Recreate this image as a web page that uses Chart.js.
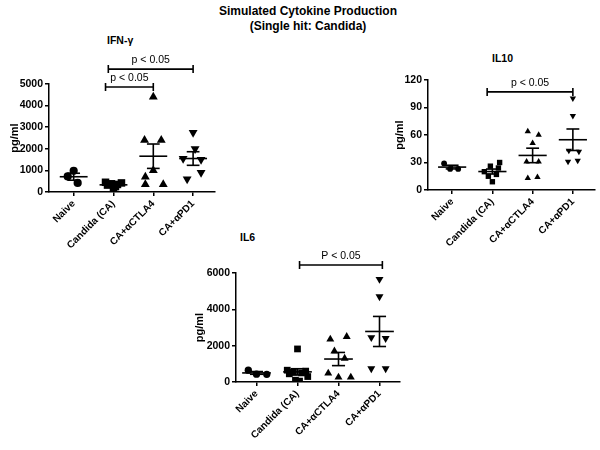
<!DOCTYPE html>
<html lang="en">
<head>
<meta charset="UTF-8">
<title>Simulated Cytokine Production</title>
<script src="https://cdn.jsdelivr.net/npm/chart.js"></script>
<style>
  body { margin: 0; width: 600px; height: 450px; position: relative; background: #fff; overflow: hidden;
         font-family: "Liberation Sans", Arial, sans-serif; color: #000; }
  .lbl { position: absolute; font-weight: bold; white-space: nowrap; }
  #title { left: 0; width: 616px; top: 4px; text-align: center; font-size: 12px; line-height: 15px; }
  canvas { position: absolute; }
</style>
<script>
  // groups on the x axis
  const groups = ['Naive', 'Candida (CA)', 'CA+αCTLA4', 'CA+αPD1'];

  // values, pg/ml, one array per group
  const ifnGamma = [
    [980, 720, 420],
    [450, 420, 380, 350, 320, 250, 150],
    [4400, 2400, 2400, 1000, 700, 350, 350],
    [2750, 2000, 1550, 1500, 900, 600]
  ];
  const il10 = [
    [29, 23, 23],
    [30, 26, 24, 20, 17, 15, 9],
    [64, 60, 51, 31, 31, 13, 14],
    [100, 81, 43, 42, 31, 32]
  ];
  const il6 = [
    [650, 430, 420],
    [1820, 650, 600, 550, 500, 450, 300, 100, 50],
    [2500, 2350, 1700, 1300, 480, 260, 260],
    [5660, 4700, 2450, 2400, 740, 740]
  ];

  // horizontal scatter of the dots inside a group (in category units)
  const ifnJitter = [[0, -0.15, 0.1], [-0.2, 0.2, -0.05, 0.1, -0.15, 0.05, 0], [0, -0.22, 0.2, 0, -0.2, -0.2, 0.25], [0, 0.05, -0.25, 0.2, 0.2, -0.15]];
  const il10Jitter = [[-0.2, -0.05, 0.15], [0.18, -0.05, 0.15, -0.2, 0.1, -0.1, 0], [-0.12, 0.15, 0, -0.15, 0.15, -0.12, 0.12], [0, 0, -0.1, 0.15, -0.12, 0.12]];
  const il6Jitter = [[-0.2, 0, 0.25], [0, -0.25, 0.2, -0.1, 0.1, -0.2, 0.25, -0.05, 0.05], [0.2, -0.2, -0.1, 0.15, -0.25, 0, 0.3], [0, 0, -0.2, 0.15, -0.2, 0.15]];

  // y tick labels
  const ifnTicks = [0, 1000, 2000, 3000, 4000, 5000];
  const il10Ticks = [0, 30, 60, 90, 120];
  const il6Ticks = [0, 2000, 4000, 6000];

  // significance brackets (x in category units, y in pg/ml)
  const ifnSig = [
    { from: 0.8, to: 2, y: 4860, label: 'p < 0.05' },
    { from: 0.87, to: 3, y: 5690, label: 'p < 0.05' }
  ];
  const il10Sig = [{ from: 0.87, to: 3, y: 107, label: 'p < 0.05' }];
  const il6Sig = [{ from: 1.05, to: 3.07, y: 6440, label: 'P < 0.05' }];

  const markers = ['circle', 'rect', 'triangle', 'triangle'];
  const markerTurn = [0, 0, 0, 180];
  const markerSize = [4.3, 5.6, 5.4, 5.4];

  Chart.defaults.font.family = "'Liberation Sans', Arial, sans-serif";
  Chart.defaults.color = '#000';

  // mean line with +/- SEM whiskers per group
  const meanSem = {
    id: 'meanSem',
    afterDatasetsDraw(chart) {
      const { ctx, scales: { x, y } } = chart;
      const hline = (a, b, v) => {
        ctx.beginPath();
        ctx.moveTo(x.getPixelForValue(a), y.getPixelForValue(v));
        ctx.lineTo(x.getPixelForValue(b), y.getPixelForValue(v));
        ctx.stroke();
      };
      ctx.save();
      ctx.strokeStyle = '#000';
      ctx.lineWidth = 1.6;
      chart.data.datasets.forEach((ds, i) => {
        const vals = ds.data.map(p => p.y);
        const n = vals.length;
        const m = vals.reduce((a, b) => a + b, 0) / n;
        const sd = Math.sqrt(vals.reduce((a, b) => a + (b - m) * (b - m), 0) / (n - 1));
        const se = sd / Math.sqrt(n);
        hline(i - 0.35, i + 0.35, m);
        hline(i - 0.16, i + 0.16, m + se);
        hline(i - 0.16, i + 0.16, m - se);
        ctx.beginPath();
        ctx.moveTo(x.getPixelForValue(i), y.getPixelForValue(m - se));
        ctx.lineTo(x.getPixelForValue(i), y.getPixelForValue(m + se));
        ctx.stroke();
      });
      ctx.restore();
    }
  };

  // "p < 0.05" brackets above the groups
  const sigBars = {
    id: 'sigBars',
    afterDraw(chart, args, opts) {
      const { ctx, scales: { x, y } } = chart;
      ctx.save();
      ctx.strokeStyle = '#000';
      ctx.fillStyle = '#000';
      ctx.lineWidth = 1.6;
      ctx.font = "10.5px 'Liberation Sans', Arial, sans-serif";
      ctx.textAlign = 'center';
      ctx.textBaseline = 'bottom';
      (opts.bars || []).forEach(b => {
        const x1 = x.getPixelForValue(b.from), x2 = x.getPixelForValue(b.to), yy = y.getPixelForValue(b.y);
        ctx.beginPath();
        ctx.moveTo(x1, yy); ctx.lineTo(x2, yy);
        ctx.moveTo(x1, yy - 4); ctx.lineTo(x1, yy + 4);
        ctx.moveTo(x2, yy - 4); ctx.lineTo(x2, yy + 4);
        ctx.stroke();
        ctx.fillText(b.label, (x1 + x2) / 2, yy - 4);
      });
      ctx.restore();
    }
  };

  function makePanel(id, values, jitter, yTicks, sig, box) {
    const datasets = values.map((vals, g) => ({
      label: groups[g],
      data: vals.map((v, k) => ({ x: g + jitter[g][k], y: v })),
      pointStyle: markers[g],
      rotation: markerTurn[g],
      radius: markerSize[g] * box.ms,
      backgroundColor: '#000',
      borderColor: '#000',
      borderWidth: 0
    }));
    const axisGrid = { drawOnChartArea: false, drawTicks: true, tickLength: 4, color: '#000', lineWidth: 1.5 };
    const axisBorder = { display: true, color: '#000', width: 1.5 };
    return new Chart(document.getElementById(id), {
      type: 'scatter',
      data: { datasets: datasets },
      options: {
        responsive: false,
        animation: false,
        devicePixelRatio: 1,
        layout: { padding: { top: box.pT, right: box.pR, left: 0, bottom: 0 } },
        plugins: { legend: { display: false }, tooltip: { enabled: false }, sigBars: { bars: sig } },
        scales: {
          x: {
            type: 'linear',
            min: box.xMin,
            max: box.xMax,
            grid: axisGrid,
            border: axisBorder,
            afterBuildTicks: s => { s.ticks = groups.map((g, i) => ({ value: i })); },
            afterFit: s => { s.height = box.H; },
            ticks: {
              autoSkip: false,
              minRotation: 45,
              maxRotation: 45,
              padding: 2,
              font: { size: 10, weight: 'bold' },
              callback: v => groups[v]
            }
          },
          y: {
            min: 0,
            max: yTicks[yTicks.length - 1],
            grid: axisGrid,
            border: axisBorder,
            afterBuildTicks: s => { s.ticks = yTicks.map(v => ({ value: v })); },
            afterFit: s => { s.width = box.W; },
            ticks: { padding: 2, font: { size: 10.5, weight: 'bold' }, callback: v => String(v) },
            title: { display: true, text: 'pg/ml', font: { size: 11, weight: 'bold' }, padding: { top: box.tp, bottom: 0 } }
          }
        }
      },
      plugins: [meanSem, sigBars]
    });
  }

  window.addEventListener('load', () => {
    makePanel('ifn', ifnGamma, ifnJitter, ifnTicks, ifnSig, { pT: 54, pR: 15, W: 49, H: 63, tp: 8, xMin: -0.62, xMax: 3.55, ms: 0.95 });
    makePanel('il10', il10, il10Jitter, il10Ticks, il10Sig, { pT: 25, pR: 5, W: 58, H: 65, tp: 23, xMin: -0.6, xMax: 3.55, ms: 0.68 });
    makePanel('il6', il6, il6Jitter, il6Ticks, il6Sig, { pT: 33, pR: 10, W: 66, H: 68, tp: 23, xMin: -0.5, xMax: 3.5, ms: 0.85 });
  });
</script>
</head>
<body>
  <div id="title" class="lbl">Simulated Cytokine Production<br>(Single hit: Candida)</div>
  <div class="lbl" style="left:107px; top:34px; font-size:10.5px;">IFN-γ</div>
  <div class="lbl" style="left:492px; top:52px; font-size:10.5px;">IL10</div>
  <div class="lbl" style="left:240px; top:231px; font-size:10.5px;">IL6</div>
  <canvas id="ifn" width="230" height="225" style="left:0px; top:30px;"></canvas>
  <canvas id="il10" width="230" height="200" style="left:370px; top:55px;"></canvas>
  <canvas id="il6" width="240" height="210" style="left:170px; top:240px;"></canvas>
</body>
</html>
